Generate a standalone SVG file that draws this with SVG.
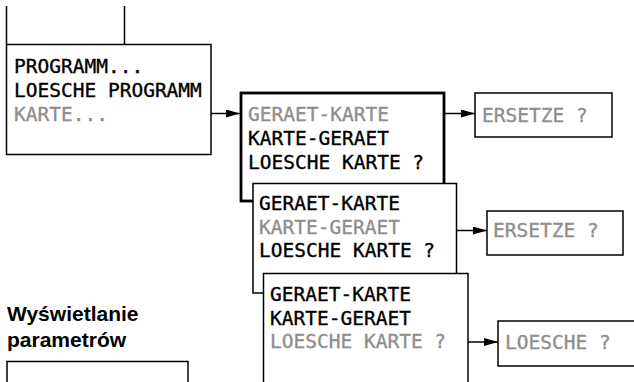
<svg xmlns="http://www.w3.org/2000/svg" width="634" height="382" viewBox="0 0 634 382">
<defs>
<style>
.box{fill:#fff;stroke:#000;stroke-width:1.5}
.thick{fill:#fff;stroke:#000;stroke-width:2.8}
.lcd{font-family:"DejaVu Sans Mono","Liberation Mono",monospace;font-size:19.5px;stroke-width:0.35px}
.on{fill:#000;stroke:#000}
.off{fill:#8e8e8e;stroke:#8e8e8e}
.ln{stroke:#000;stroke-width:1.5;fill:none}
.hd{font-family:"Liberation Sans",Arial,sans-serif;font-weight:bold;font-size:21px;fill:#000}
</style>
<marker id="ah" viewBox="0 0 14 8" refX="14" refY="4" markerWidth="14" markerHeight="8" markerUnits="userSpaceOnUse" orient="auto">
<path d="M0,0 L14,4 L0,8 Z" fill="#000"/>
</marker>
</defs>
<rect width="634" height="382" fill="#fff"/>
<g id="connectors">
<path class="ln" d="M6.5,6 V44.5"/>
<path class="ln" d="M124.5,6 V44.5"/>
<path class="ln" d="M211,113.5 H240" marker-end="url(#ah)"/>
<path class="ln" d="M444,113.5 H475" marker-end="url(#ah)"/>
<path class="ln" d="M456.5,230.5 H487" marker-end="url(#ah)"/>
<path class="ln" d="M468,342 H498" marker-end="url(#ah)"/>
</g>
<g id="menu-programm">
<rect class="box" x="6.5" y="44.5" width="204.5" height="110"/>
<text class="lcd on" x="14" y="73">PROGRAMM...</text>
<text class="lcd on" x="14" y="97">LOESCHE PROGRAMM</text>
<text class="lcd off" x="14" y="121">KARTE...</text>
</g>
<g id="menu-karte-1">
<rect class="thick" x="241" y="93" width="203" height="108"/>
<text class="lcd off" x="248" y="121">GERAET-KARTE</text>
<text class="lcd on" x="248" y="145">KARTE-GERAET</text>
<text class="lcd on" x="248" y="169">LOESCHE KARTE ?</text>
</g>
<g id="menu-karte-2">
<rect class="box" x="253" y="183.5" width="203.5" height="109.5"/>
<text class="lcd on" x="259" y="210">GERAET-KARTE</text>
<text class="lcd off" x="259" y="234">KARTE-GERAET</text>
<text class="lcd on" x="259" y="257">LOESCHE KARTE ?</text>
</g>
<g id="menu-karte-3">
<rect class="box" x="263.5" y="273.5" width="204.5" height="120"/>
<text class="lcd on" x="270" y="301">GERAET-KARTE</text>
<text class="lcd on" x="270" y="325">KARTE-GERAET</text>
<text class="lcd off" x="270" y="348">LOESCHE KARTE ?</text>
</g>
<g id="ersetze-1">
<rect class="box" x="475" y="93" width="137" height="44"/>
<text class="lcd off" x="482" y="122">ERSETZE ?</text>
</g>
<g id="ersetze-2">
<rect class="box" x="487" y="211" width="136" height="44"/>
<text class="lcd off" x="493" y="237">ERSETZE ?</text>
</g>
<g id="loesche">
<rect class="box" x="498" y="321" width="145" height="45"/>
<text class="lcd off" x="505" y="349">LOESCHE ?</text>
</g>
<g id="heading">
<text class="hd" x="7" y="321">Wyświetlanie</text>
<text class="hd" x="7" y="347">parametrów</text>
</g>
<g id="param-box">
<rect class="box" x="7" y="361.5" width="181" height="30"/>
</g>
</svg>
